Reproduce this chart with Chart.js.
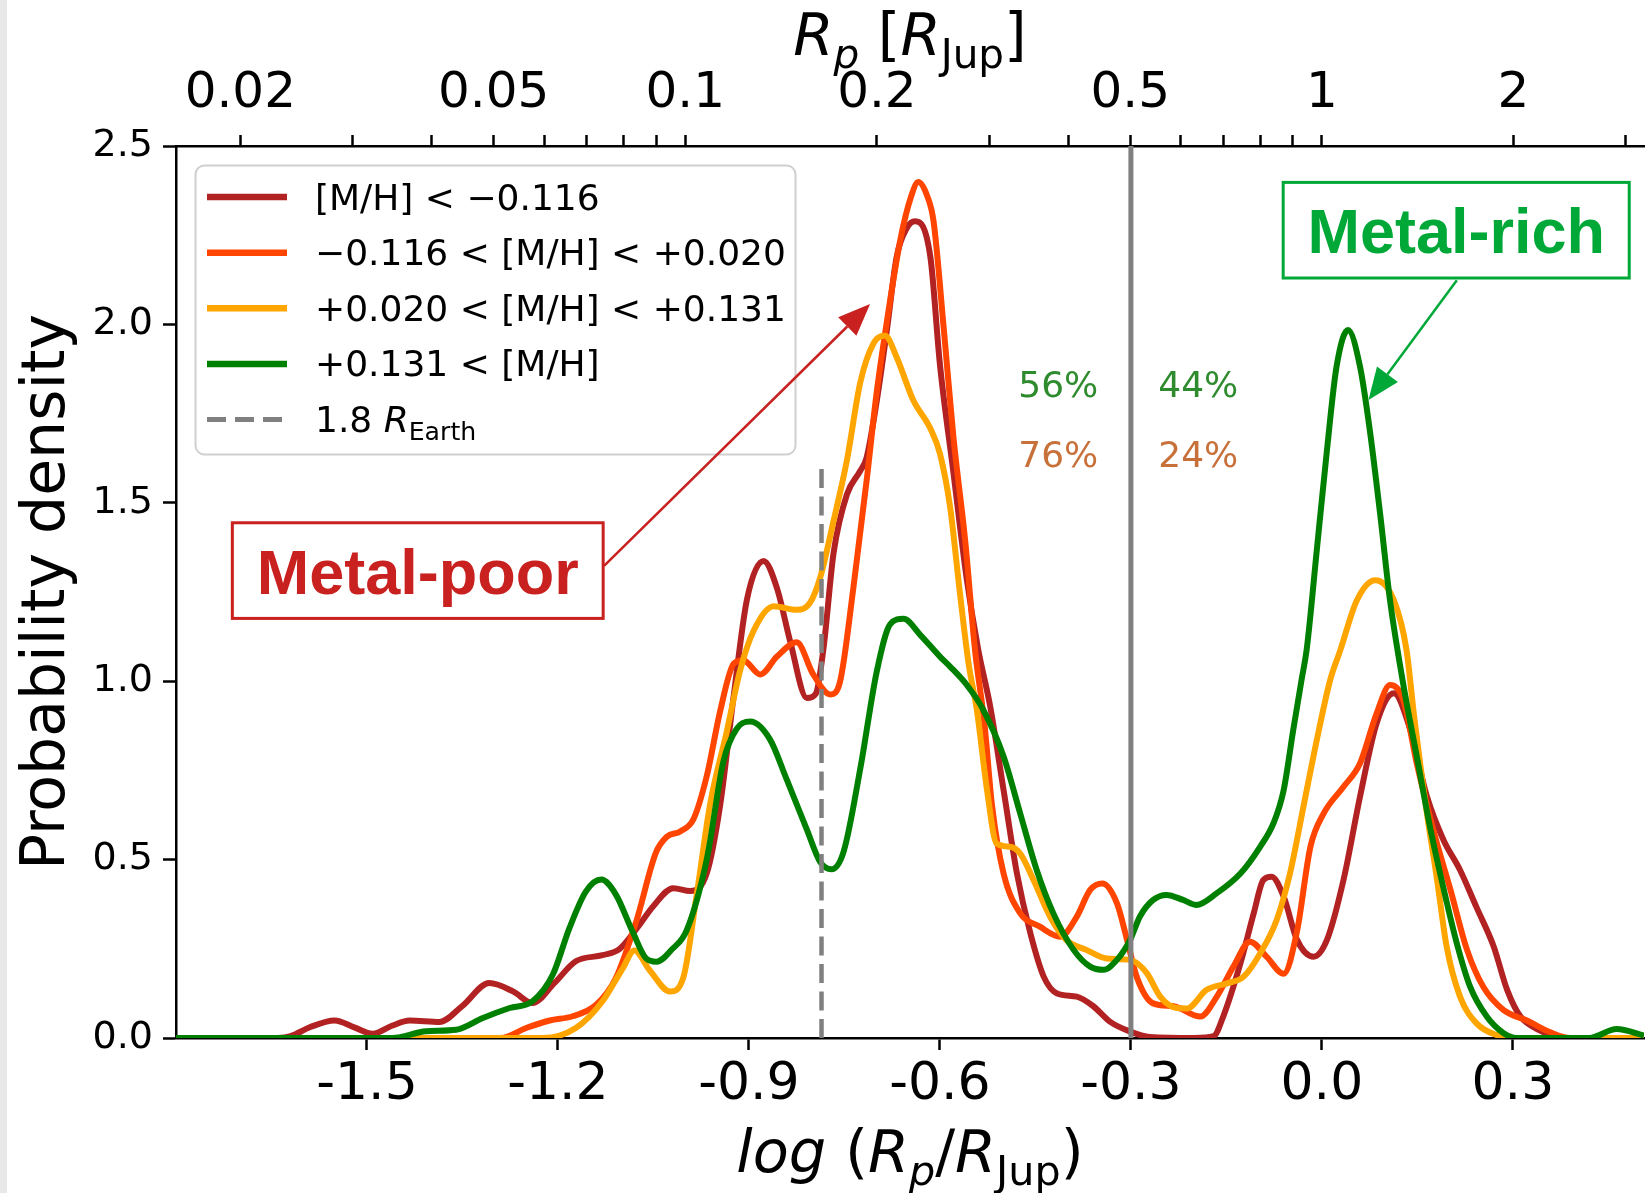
<!DOCTYPE html>
<html><head><meta charset="utf-8">
<script src="https://cdn.jsdelivr.net/npm/chart.js@4.4.1/dist/chart.umd.min.js"></script>
<style>
html,body{margin:0;padding:0;}
body{width:1645px;height:1193px;overflow:hidden;background:linear-gradient(to right,#e8e8e8 0,#e8e8e8 7px,#ffffff 7px);}
canvas{display:block;}
</style></head><body>
<canvas id="c" width="1645" height="1193" style="width:1645px;height:1193px"></canvas>
<script>
// ---------- data ----------
const xMetalPoor = [-1.8,-1.64,-1.62,-1.59,-1.551,-1.52,-1.491,-1.46,-1.433,-1.386,-1.35,-1.308,-1.27,-1.24,-1.205,-1.172,-1.13,-1.103,-1.075,-1.05,-1.019,-0.992,-0.966,-0.945,-0.924,-0.903,-0.877,-0.856,-0.835,-0.809,-0.795,-0.783,-0.767,-0.746,-0.725,-0.715,-0.699,-0.683,-0.668,-0.652,-0.639,-0.615,-0.6,-0.579,-0.558,-0.54,-0.521,-0.5,-0.479,-0.458,-0.437,-0.416,-0.385,-0.359,-0.333,-0.301,-0.27,-0.2,-0.17,-0.155,-0.128,-0.107,-0.092,-0.079,-0.06,-0.039,-0.013,0.008,0.034,0.06,0.086,0.113,0.139,0.165,0.191,0.217,0.243,0.27,0.291,0.312,0.343,0.375,0.506];
const yMetalPoor = [0,0,0.005,0.03,0.049,0.03,0.012,0.035,0.049,0.045,0.09,0.154,0.13,0.098,0.155,0.215,0.232,0.25,0.31,0.37,0.42,0.412,0.463,0.655,0.958,1.23,1.337,1.261,1.11,0.953,0.965,1.09,1.36,1.524,1.59,1.628,1.788,1.988,2.189,2.27,2.289,2.189,1.888,1.588,1.288,1.09,0.929,0.695,0.461,0.294,0.172,0.125,0.116,0.089,0.046,0.018,0.003,0,0.005,0.06,0.209,0.35,0.443,0.452,0.396,0.275,0.228,0.275,0.443,0.677,0.882,0.966,0.863,0.677,0.555,0.471,0.366,0.256,0.135,0.06,0.021,0,0];

const xMidLow = [-1.8,-1.29,-1.25,-1.213,-1.177,-1.14,-1.109,-1.077,-1.046,-1.029,-1.008,-0.987,-0.966,-0.945,-0.924,-0.909,-0.882,-0.856,-0.825,-0.799,-0.772,-0.757,-0.736,-0.715,-0.7,-0.684,-0.662,-0.645,-0.634,-0.62,-0.61,-0.594,-0.579,-0.56,-0.545,-0.53,-0.518,-0.5,-0.474,-0.443,-0.411,-0.385,-0.364,-0.345,-0.322,-0.306,-0.291,-0.265,-0.233,-0.191,-0.165,-0.139,-0.113,-0.087,-0.06,-0.039,-0.018,0.003,0.034,0.06,0.086,0.107,0.128,0.149,0.175,0.202,0.228,0.254,0.285,0.322,0.359,0.39,0.506];
const yMidLow = [0,0,0.028,0.049,0.061,0.093,0.168,0.327,0.52,0.564,0.579,0.614,0.736,0.918,1.049,1.059,1.019,1.069,1.109,1.019,0.963,0.998,1.261,1.564,1.8,2.0,2.239,2.36,2.399,2.36,2.289,1.989,1.688,1.388,1.09,0.88,0.649,0.461,0.35,0.312,0.284,0.34,0.415,0.433,0.378,0.275,0.172,0.097,0.089,0.06,0.116,0.2,0.27,0.228,0.18,0.3,0.536,0.63,0.704,0.77,0.91,0.989,0.947,0.77,0.583,0.415,0.247,0.142,0.079,0.049,0.016,0,0];

const xMidHigh = [-1.8,-1.224,-1.172,-1.13,-1.098,-1.08,-1.056,-1.024,-1.003,-0.982,-0.961,-0.935,-0.914,-0.893,-0.861,-0.825,-0.804,-0.788,-0.767,-0.746,-0.725,-0.704,-0.686,-0.668,-0.642,-0.615,-0.6,-0.584,-0.568,-0.555,-0.542,-0.526,-0.511,-0.49,-0.474,-0.453,-0.427,-0.401,-0.37,-0.338,-0.301,-0.275,-0.254,-0.228,-0.212,-0.181,-0.149,-0.123,-0.097,-0.071,-0.05,-0.029,-0.008,0.013,0.029,0.055,0.084,0.113,0.133,0.145,0.165,0.181,0.196,0.217,0.243,0.275,0.3,0.506];
const yMidHigh = [0,0,0.028,0.103,0.196,0.245,0.19,0.13,0.17,0.402,0.655,0.857,1.029,1.14,1.21,1.2,1.22,1.291,1.45,1.62,1.838,1.948,1.968,1.908,1.788,1.708,1.638,1.488,1.238,1.05,0.92,0.695,0.545,0.536,0.517,0.443,0.34,0.274,0.247,0.223,0.219,0.182,0.116,0.084,0.083,0.135,0.153,0.172,0.237,0.331,0.462,0.648,0.835,1.003,1.087,1.227,1.283,1.227,1.087,0.9,0.63,0.443,0.256,0.116,0.041,0.008,0,0];

const xMetalRich = [-1.8,-1.46,-1.407,-1.36,-1.318,-1.276,-1.24,-1.208,-1.182,-1.156,-1.132,-1.109,-1.083,-1.062,-1.045,-1.02,-0.998,-0.966,-0.94,-0.919,-0.898,-0.867,-0.841,-0.809,-0.788,-0.77,-0.751,-0.725,-0.699,-0.678,-0.657,-0.631,-0.6,-0.584,-0.558,-0.532,-0.5,-0.474,-0.448,-0.422,-0.39,-0.364,-0.343,-0.322,-0.301,-0.286,-0.265,-0.244,-0.218,-0.197,-0.165,-0.128,-0.097,-0.076,-0.06,-0.045,-0.032,-0.024,-0.008,0.008,0.023,0.041,0.06,0.076,0.092,0.107,0.128,0.149,0.17,0.191,0.212,0.233,0.259,0.285,0.306,0.42,0.463,0.506];
const yMetalRich = [0,0,0.019,0.023,0.056,0.084,0.103,0.178,0.308,0.411,0.444,0.402,0.299,0.224,0.214,0.25,0.301,0.503,0.776,0.867,0.887,0.837,0.726,0.584,0.493,0.473,0.524,0.756,1.029,1.16,1.175,1.13,1.069,1.041,0.99,0.92,0.789,0.63,0.471,0.35,0.247,0.2,0.191,0.219,0.276,0.34,0.387,0.401,0.387,0.373,0.406,0.461,0.536,0.602,0.695,0.863,1.003,1.087,1.367,1.648,1.881,1.984,1.881,1.694,1.461,1.227,0.99,0.79,0.59,0.42,0.265,0.143,0.06,0.014,0,0,0.025,0.007];

const seriesLabels = ['[M/H] < \u22120.116', '\u22120.116 < [M/H] < +0.020', '+0.020 < [M/H] < +0.131', '+0.131 < [M/H]'];
const seriesColors = ['#b22222', '#ff4500', '#ffa500', '#008000'];

const boundaryX = [-0.3, -0.3];      // solid grey divider
const boundaryY = [0, 2.5];
const earthX = [-0.786, -0.786];     // 1.8 R_Earth dashed marker
const earthY = [0, 1.6];

const xTickValues = [-1.5, -1.2, -0.9, -0.6, -0.3, 0.0, 0.3];
const xTickLabels = ['-1.5', '-1.2', '-0.9', '-0.6', '-0.3', '0.0', '0.3'];
const yTickValues = [0, 0.5, 1.0, 1.5, 2.0, 2.5];
const yTickLabels = ['0.0', '0.5', '1.0', '1.5', '2.0', '2.5'];
const topTickRadii = [0.02,0.03,0.04,0.05,0.06,0.07,0.08,0.09,0.1,0.2,0.3,0.4,0.5,0.6,0.7,0.8,0.9,1,2,3];
const topTickLabels = ['0.02','','','0.05','','','','','0.1','0.2','','','0.5','','','','','1','2',''];
const xMin = -1.8, xMax = 0.506, yMin = 0, yMax = 2.5;

const pctLabels = ['56%', '44%', '76%', '24%'];
const pctX = [-0.477, -0.257, -0.477, -0.257];
const pctY = [1.797, 1.797, 1.600, 1.600];
const pctColors = ['#2e8b2e', '#2e8b2e', '#c8703a', '#c8703a'];

const boxTexts = ['Metal-poor', 'Metal-rich'];
const boxColors = ['#c8211f', '#00a838'];
const boxLeft = [-1.7115, -0.0608], boxRight = [-1.129, 0.4828];
const boxTop = [1.444, 2.398], boxBottom = [1.176, 2.130];
const arrowFromX = [-1.1276, 0.212], arrowFromY = [1.323, 2.124];
const arrowToX = [-0.7097, 0.0732], arrowToY = [2.057, 1.788];

// ---------- drawing ----------
const FAM = "'DejaVu Sans', sans-serif";
const BOLD = "'Liberation Sans', Arial, sans-serif";

function pts(xs, ys) { return xs.map((x, i) => ({x: x, y: ys[i]})); }

function drawRuns(ctx, runs, x, y, size, align) {
  const parts = runs.map(r => {
    const s = r.sub ? size * 0.7 : size;
    const font = (r.it ? 'italic ' : '') + s + 'px ' + FAM;
    ctx.font = font;
    return {t: r.t, font: font, w: ctx.measureText(r.t).width, dy: r.sub ? size * 0.22 : 0};
  });
  const total = parts.reduce((a, p) => a + p.w, 0);
  let cx = align === 'center' ? x - total / 2 : x;
  ctx.textAlign = 'left'; ctx.textBaseline = 'alphabetic';
  parts.forEach(p => { ctx.font = p.font; ctx.fillText(p.t, cx, y + p.dy); cx += p.w; });
}

function arrow(ctx, x1, y1, x2, y2, color, lw, hl, hw) {
  const a = Math.atan2(y2 - y1, x2 - x1);
  const bx = x2 - hl * Math.cos(a), by = y2 - hl * Math.sin(a);
  ctx.strokeStyle = color; ctx.lineWidth = lw; ctx.setLineDash([]);
  ctx.beginPath(); ctx.moveTo(x1, y1); ctx.lineTo(bx, by); ctx.stroke();
  ctx.fillStyle = color; ctx.beginPath(); ctx.moveTo(x2, y2);
  ctx.lineTo(bx + hw * Math.sin(a), by - hw * Math.cos(a));
  ctx.lineTo(bx - hw * Math.sin(a), by + hw * Math.cos(a));
  ctx.closePath(); ctx.fill();
}

const decor = {
  id: 'decor',
  afterDraw(chart) {
    const ctx = chart.ctx, A = chart.chartArea;
    const sx = chart.scales.x, sy = chart.scales.y;
    ctx.save();
    ctx.fillStyle = '#000';
    // axis titles
    drawRuns(ctx, [{t:'R', it:true}, {t:'p', it:true, sub:true}, {t:' [', it:false}, {t:'R', it:true}, {t:'Jup', sub:true}, {t:']'}], (A.left + A.right) / 2, 55, 58, 'center');
    drawRuns(ctx, [{t:'log', it:true}, {t:' (', it:false}, {t:'R', it:true}, {t:'p', it:true, sub:true}, {t:'/'}, {t:'R', it:true}, {t:'Jup', sub:true}, {t:')'}], (A.left + A.right) / 2, 1172, 59, 'center');
    ctx.save();
    ctx.translate(64, (A.top + A.bottom) / 2);
    ctx.rotate(-Math.PI / 2);
    ctx.font = '60px ' + FAM; ctx.textAlign = 'center'; ctx.textBaseline = 'alphabetic';
    ctx.fillText('Probability density', 0, 0);
    ctx.restore();

    // legend
    const lx = A.left + 19.5, ly = A.top + 19.5, lw = 600, lh = 289;
    ctx.beginPath(); ctx.roundRect(lx, ly, lw, lh, 9);
    ctx.fillStyle = 'rgba(255,255,255,0.8)'; ctx.fill();
    ctx.strokeStyle = '#cfcfcf'; ctx.lineWidth = 2; ctx.stroke();
    const rowGap = 55.65;
    for (let i = 0; i < 5; i++) {
      const cy = ly + 31.5 + i * rowGap;
      ctx.beginPath(); ctx.moveTo(A.left + 31, cy); ctx.lineTo(A.left + 111, cy);
      if (i < 4) { ctx.strokeStyle = seriesColors[i]; ctx.lineWidth = 6.5; ctx.setLineDash([]); }
      else { ctx.strokeStyle = '#808080'; ctx.lineWidth = 5; ctx.setLineDash([19, 9]); }
      ctx.stroke(); ctx.setLineDash([]);
      ctx.fillStyle = '#000';
      if (i < 4) {
        ctx.font = '36px ' + FAM; ctx.textAlign = 'left'; ctx.textBaseline = 'alphabetic';
        ctx.fillText(seriesLabels[i], A.left + 139, cy + 12.5);
      } else {
        drawRuns(ctx, [{t:'1.8 '}, {t:'R', it:true}, {t:'Earth', sub:true}], A.left + 139, cy + 12.5, 36, 'left');
      }
    }

    // percentages
    ctx.font = '36px ' + FAM; ctx.textAlign = 'left'; ctx.textBaseline = 'alphabetic';
    pctLabels.forEach((t, i) => {
      ctx.fillStyle = pctColors[i];
      ctx.fillText(t, sx.getPixelForValue(pctX[i]), sy.getPixelForValue(pctY[i]));
    });

    // annotation boxes + arrows
    boxTexts.forEach((t, i) => {
      const x0 = sx.getPixelForValue(boxLeft[i]), x1 = sx.getPixelForValue(boxRight[i]);
      const y0 = sy.getPixelForValue(boxTop[i]), y1 = sy.getPixelForValue(boxBottom[i]);
      ctx.fillStyle = '#fff'; ctx.fillRect(x0, y0, x1 - x0, y1 - y0);
      ctx.strokeStyle = boxColors[i]; ctx.lineWidth = 3; ctx.strokeRect(x0, y0, x1 - x0, y1 - y0);
      ctx.fillStyle = boxColors[i]; ctx.font = 'bold 63px ' + BOLD;
      ctx.textAlign = 'center'; ctx.textBaseline = 'alphabetic';
      ctx.fillText(t, (x0 + x1) / 2, (y0 + y1) / 2 + 23);
      arrow(ctx, sx.getPixelForValue(arrowFromX[i]), sy.getPixelForValue(arrowFromY[i]),
            sx.getPixelForValue(arrowToX[i]), sy.getPixelForValue(arrowToY[i]), boxColors[i], 2.5, 32, 13);
    });
    ctx.restore();
  }
};

const tickFont = size => ({family: FAM, size: size});
const datasets = [
  {data: pts(boundaryX, boundaryY), borderColor: '#808080', borderWidth: 5, tension: 0, order: 0},
  {data: pts(earthX, earthY), borderColor: '#808080', borderWidth: 4.5, borderDash: [19, 8.5], tension: 0, order: 0},
  {data: pts(xMetalRich, yMetalRich), borderColor: seriesColors[3], borderWidth: 6, cubicInterpolationMode: 'monotone', order: 1},
  {data: pts(xMidHigh, yMidHigh), borderColor: seriesColors[2], borderWidth: 6, cubicInterpolationMode: 'monotone', order: 2},
  {data: pts(xMidLow, yMidLow), borderColor: seriesColors[1], borderWidth: 6, cubicInterpolationMode: 'monotone', order: 3},
  {data: pts(xMetalPoor, yMetalPoor), borderColor: seriesColors[0], borderWidth: 6, cubicInterpolationMode: 'monotone', order: 4}
];
datasets.forEach(d => { d.pointRadius = 0; d.fill = false; d.borderJoinStyle = 'round'; d.borderCapStyle = 'butt'; });

new Chart(document.getElementById('c'), {
  type: 'line',
  data: {datasets: datasets},
  options: {
    responsive: false, animation: false, devicePixelRatio: 1,
    layout: {padding: {left: 0, right: 1, top: 0, bottom: 0}},
    plugins: {legend: {display: false}, tooltip: {enabled: false}},
    scales: {
      x: {
        type: 'linear', position: 'bottom', min: xMin, max: xMax,
        afterBuildTicks: s => { s.ticks = xTickValues.map(v => ({value: v})); },
        afterFit: s => { s.height = 155; },
        ticks: {autoSkip: false, maxRotation: 0, color: '#000', font: tickFont(52), padding: 4,
                callback: (v, i) => xTickLabels[i]},
        grid: {drawOnChartArea: false, drawTicks: true, tickLength: 12, tickColor: '#000', tickWidth: 2.5},
        border: {display: true, color: '#000', width: 2.5}
      },
      xTop: {
        type: 'linear', position: 'top', axis: 'x', min: xMin, max: xMax,
        afterBuildTicks: s => { s.ticks = topTickRadii.map(r => ({value: Math.log10(r)})); },
        afterFit: s => { s.height = 146; },
        ticks: {autoSkip: false, maxRotation: 0, color: '#000', font: tickFont(50), padding: 11,
                callback: (v, i) => topTickLabels[i]},
        grid: {drawOnChartArea: false, drawTicks: true, tickLength: 11, tickColor: '#000', tickWidth: 2.5},
        border: {display: true, color: '#000', width: 2.5}
      },
      y: {
        type: 'linear', position: 'left', min: yMin, max: yMax,
        afterBuildTicks: s => { s.ticks = yTickValues.map(v => ({value: v})); },
        afterFit: s => { s.width = 176; },
        ticks: {color: '#000', font: tickFont(38), padding: 10, callback: (v, i) => yTickLabels[i]},
        grid: {drawOnChartArea: false, drawTicks: true, tickLength: 13, tickColor: '#000', tickWidth: 2.5},
        border: {display: true, color: '#000', width: 2.5}
      }
    }
  },
  plugins: [decor]
});
</script></body></html>
